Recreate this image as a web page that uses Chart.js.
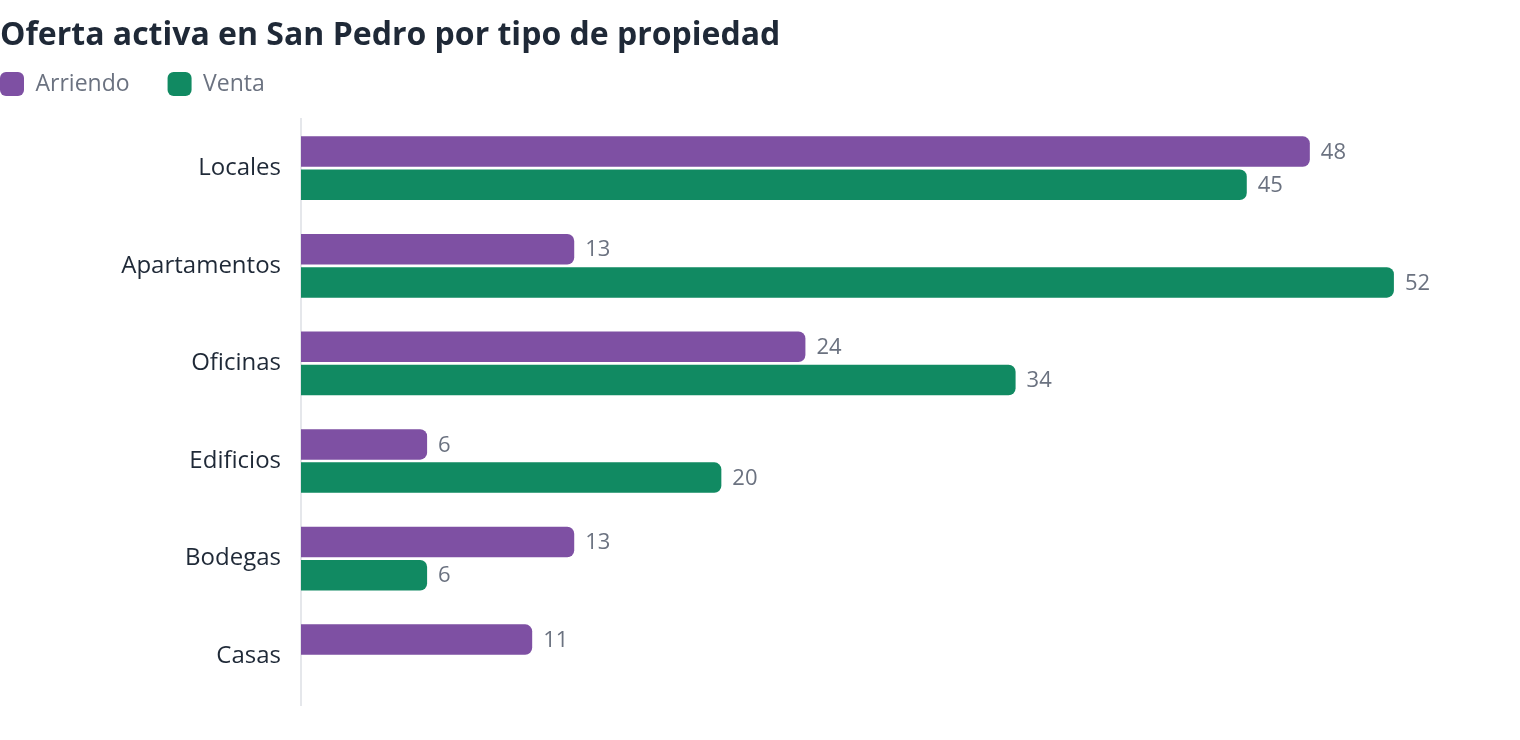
<!DOCTYPE html>
<html><head><meta charset="utf-8">
<script src="https://cdn.jsdelivr.net/npm/chart.js@4.4.1/dist/chart.umd.min.js"></script>
<style>html,body{margin:0;padding:0;background:#fff}#wrap{width:1520px;height:740px;position:relative}</style>
</head><body><div id="wrap"><canvas id="c"></canvas></div>
<script>
const categories = ["Locales","Apartamentos","Oficinas","Edificios","Bodegas","Casas"];
const arriendo = [48,13,24,6,13,11];
const venta = [45,52,34,20,6,null];
const seriesNames = ["Arriendo","Venta"];
const titleText = "Oferta activa en San Pedro por tipo de propiedad";

const FONT = "'Segoe UI','Open Sans','Noto Sans',sans-serif";
const LEG_PAD = 38;
const TITLE_SHIFT = 8;
const valueLabels = {
  id:'valueLabels',
  afterDatasetsDraw(chart){
    const ctx = chart.ctx;
    ctx.save();
    ctx.font = "22px " + FONT;
    ctx.fillStyle = "#6b7280";
    ctx.textBaseline = "middle";
    ctx.textAlign = "left";
    chart.data.datasets.forEach((ds,i)=>{
      chart.getDatasetMeta(i).data.forEach((el,j)=>{
        const v = ds.data[j];
        if(v===null||v===undefined) return;
        ctx.fillText(String(v), el.x + 11, el.y + 1);
      });
    });
    ctx.restore();
  }
};
const headerShift = {
  id:'headerShift',
  beforeDraw(chart){
    const lg = chart.legend;
    if(lg){
      const dx = -LEG_PAD - lg.left;
      lg.left += dx; lg.right += dx;
      const dy = 72 - (lg.top + LEG_PAD);
      lg.top += dy; lg.bottom += dy;
    }
    const tb = chart.titleBlock;
    if(tb && !tb._shifted){ tb.top += TITLE_SHIFT; tb.bottom += TITLE_SHIFT; tb._shifted = true; }
  }
};

new Chart(document.getElementById('c'),{
  type:'bar',
  data:{labels:categories,datasets:[
    {label:seriesNames[0],data:arriendo,backgroundColor:'#7e50a3',borderWidth:0,borderRadius:7,borderSkipped:'start'},
    {label:seriesNames[1],data:venta,backgroundColor:'#118a62',borderWidth:0,borderRadius:7,borderSkipped:'start'}
  ]},
  options:{
    indexAxis:'y',responsive:true,maintainAspectRatio:false,animation:false,
    layout:{padding:{left:0,right:0,top:0,bottom:35}},
    datasets:{bar:{categoryPercentage:0.68,barPercentage:0.92}},
    plugins:{
      title:{display:true,text:titleText,align:'start',color:'#1f2937',font:{family:FONT,size:32,weight:'bold'},padding:{top:17-TITLE_SHIFT,bottom:0}},
      legend:{display:true,align:'start',labels:{boxWidth:24,boxHeight:24,useBorderRadius:true,borderRadius:6,color:'#6b7280',font:{family:FONT,size:23},padding:LEG_PAD}},
      tooltip:{enabled:false}
    },
    scales:{
      x:{display:false,min:0,max:58},
      y:{grid:{display:false,drawTicks:false},border:{display:true,color:'#e5e7eb',width:2},
         ticks:{color:'#1f2937',font:{family:FONT,size:24},padding:20},
         afterFit(s){s.width=301;}}
    }
  },
  plugins:[headerShift,valueLabels]
});
</script></body></html>
